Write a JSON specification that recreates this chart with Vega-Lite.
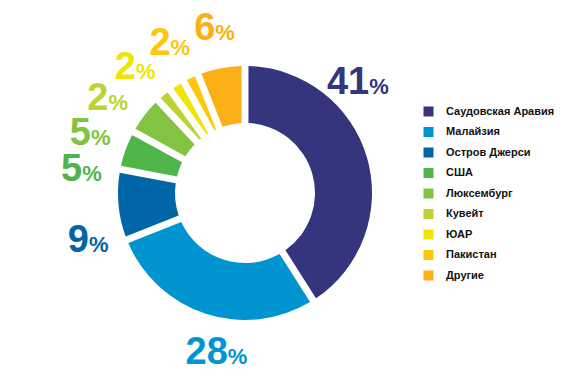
{
  "$schema": "https://vega.github.io/schema/vega-lite/v6.json",
  "width": 490,
  "height": 386,
  "padding": 0,
  "autosize": {"type": "pad"},
  "background": "white",
  "config": {"view": {"stroke": null}},
  "data": {
    "values": [
      {"k": 1, "country": "Саудовская Аравия", "value": 41, "label": "41"},
      {"k": 2, "country": "Малайзия", "value": 28, "label": "28"},
      {"k": 3, "country": "Остров Джерси", "value": 9, "label": "9"},
      {"k": 4, "country": "США", "value": 5, "label": "5"},
      {"k": 5, "country": "Люксембург", "value": 5, "label": "5"},
      {"k": 6, "country": "Кувейт", "value": 2, "label": "2"},
      {"k": 7, "country": "ЮАР", "value": 2, "label": "2"},
      {"k": 8, "country": "Пакистан", "value": 2, "label": "2"},
      {"k": 9, "country": "Другие", "value": 6, "label": "6"}
    ]
  },
  "encoding": {
    "theta": {"field": "value", "type": "quantitative", "stack": true},
    "order": {"field": "k", "type": "quantitative"},
    "color": {
      "field": "country",
      "type": "nominal",
      "sort": ["Саудовская Аравия", "Малайзия", "Остров Джерси", "США", "Люксембург", "Кувейт", "ЮАР", "Пакистан", "Другие"],
      "scale": {
        "domain": ["Саудовская Аравия", "Малайзия", "Остров Джерси", "США", "Люксембург", "Кувейт", "ЮАР", "Пакистан", "Другие"],
        "range": ["#34357d", "#0094d0", "#0066a8", "#4fb548", "#82c341", "#bcd42f", "#f0e500", "#fec70b", "#fbb116"]
      },
      "legend": {
        "title": null,
        "orient": "none",
        "legendX": 423,
        "legendY": 106,
        "symbolType": "square",
        "symbolSize": 100,
        "symbolStrokeWidth": 0,
        "labelFont": "Liberation Sans",
        "labelFontWeight": "bold",
        "labelFontSize": 11,
        "labelColor": "#111111",
        "labelOffset": 12,
        "rowPadding": 8.5
      }
    }
  },
  "layer": [
    {
      "mark": {"type": "arc", "radius": 127, "innerRadius": 70, "padAngle": 0.048}
    },
    {
      "mark": {"type": "text", "radius": 164, "align": "right", "baseline": "alphabetic", "dy": 8, "font": "Liberation Sans", "fontWeight": "bold", "fontSize": 38, "letterSpacing": -1.5},
      "encoding": {
        "text": {"field": "label"},
        "theta": {"field": "value", "type": "quantitative", "stack": true, "scale": {"domain": [0, 55, 80.5, 85.5, 89, 93, 100], "range": [-0.5585, 3.2463, 4.8346, 5.0615, 5.2988, 5.8119, 6.3181]}}
      }
    },
    {
      "mark": {"type": "text", "radius": 164, "align": "left", "baseline": "alphabetic", "dy": 8, "font": "Liberation Sans", "fontWeight": "bold", "fontSize": 22, "letterSpacing": -1},
      "encoding": {
        "text": {"value": "%"},
        "theta": {"field": "value", "type": "quantitative", "stack": true, "scale": {"domain": [0, 55, 80.5, 85.5, 89, 93, 100], "range": [-0.5585, 3.2463, 4.8346, 5.0615, 5.2988, 5.8119, 6.3181]}}
      }
    }
  ],
  "resolve": {"scale": {"theta": "independent"}}
}
